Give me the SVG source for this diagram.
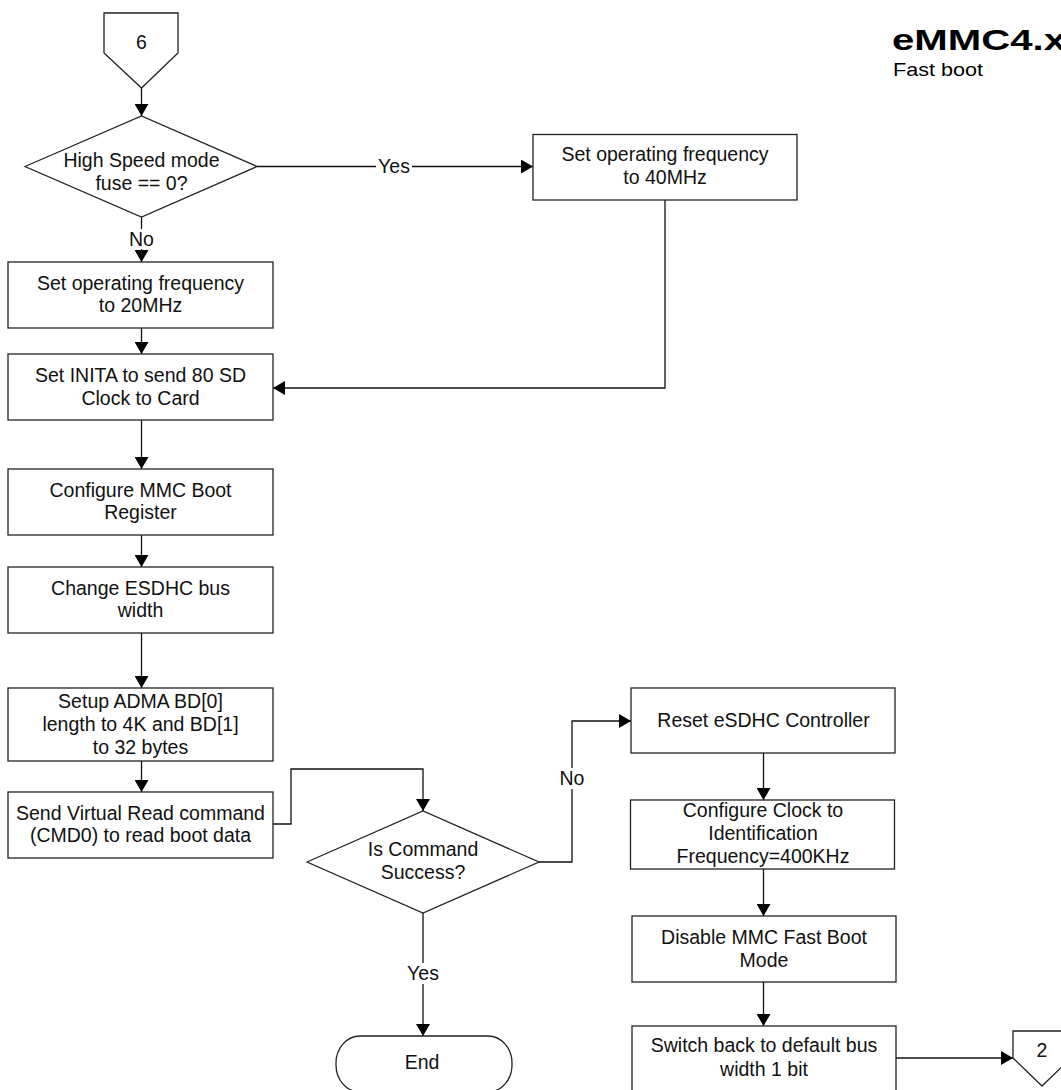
<svg xmlns="http://www.w3.org/2000/svg" width="1061" height="1090" viewBox="0 0 1061 1090">
<style>
.s{fill:#fff;stroke:#222;stroke-width:1.3}
.t{font-family:"Liberation Sans",Arial,sans-serif;font-size:19.5px;fill:#111;text-anchor:middle}
.c{fill:none;stroke:#111;stroke-width:1.3}
.lb{fill:#fff;stroke:none}
</style>
<defs>
<marker id="arr" markerUnits="userSpaceOnUse" viewBox="0 0 12 14" markerWidth="12" markerHeight="14" refX="12" refY="7" orient="auto">
<path d="M0,0 L12,7 L0,14 z" fill="#000"/>
</marker>
</defs>
<rect width="1061" height="1090" fill="#fff"/>

<g id="title">
<text x="892" y="50" style="font-family:'Liberation Sans',Arial,sans-serif;font-weight:bold;font-size:30px;fill:#000" textLength="174" lengthAdjust="spacingAndGlyphs">eMMC4.x</text>
<text x="893" y="75.5" style="font-family:'Liberation Sans',Arial,sans-serif;font-size:18.5px;fill:#000" textLength="90" lengthAdjust="spacingAndGlyphs">Fast boot</text>
</g>

<g id="connectors">
<path class="c" d="M141.5,88 V116" marker-end="url(#arr)"/>
<path class="c" d="M257,166.5 H533" marker-end="url(#arr)"/>
<path class="c" d="M665,200 V388 H273" marker-end="url(#arr)"/>
<path class="c" d="M141.5,217 V262" marker-end="url(#arr)"/>
<path class="c" d="M141.5,328 V354" marker-end="url(#arr)"/>
<path class="c" d="M141.5,420 V469" marker-end="url(#arr)"/>
<path class="c" d="M141.5,535 V567" marker-end="url(#arr)"/>
<path class="c" d="M141.5,633 V688" marker-end="url(#arr)"/>
<path class="c" d="M141.5,761 V792" marker-end="url(#arr)"/>
<path class="c" d="M273,824 H291 V769 H423 V811" marker-end="url(#arr)"/>
<path class="c" d="M423,913 V1036" marker-end="url(#arr)"/>
<path class="c" d="M539,862 H572 V721 H631" marker-end="url(#arr)"/>
<path class="c" d="M763.5,753 V800" marker-end="url(#arr)"/>
<path class="c" d="M763.5,869 V916" marker-end="url(#arr)"/>
<path class="c" d="M763.5,982 V1026" marker-end="url(#arr)"/>
<path class="c" d="M896,1058 H1013" marker-end="url(#arr)"/>
<rect class="lb" x="376" y="156" width="36" height="21"/>
<text class="t" x="394" y="172.5">Yes</text>
<rect class="lb" x="127" y="229" width="29" height="20"/>
<text class="t" x="141.5" y="246">No</text>
<rect class="lb" x="405" y="963" width="36" height="21"/>
<text class="t" x="423" y="980">Yes</text>
<rect class="lb" x="557" y="768" width="30" height="21"/>
<text class="t" x="572" y="785">No</text>
</g>

<g id="n6">
<path class="s" d="M104,13 H178 V53 L141.5,88 L104,53 Z"/>
<text class="t" x="141.5" y="48.5">6</text>
</g>

<g id="d1">
<path class="s" d="M25,166.5 L141.5,116 L257,166.5 L141.5,217 Z"/>
<text class="t" x="141.5" y="166.5">High Speed mode</text>
<text class="t" x="141.5" y="190">fuse == 0?</text>
</g>

<g id="b40">
<rect class="s" x="533" y="134.5" width="264" height="65.5"/>
<text class="t" x="665" y="161">Set operating frequency</text>
<text class="t" x="665" y="183.5">to 40MHz</text>
</g>

<g id="b20">
<rect class="s" x="8" y="262" width="265" height="66"/>
<text class="t" x="140.5" y="289.5">Set operating frequency</text>
<text class="t" x="140.5" y="311.5">to 20MHz</text>
</g>

<g id="binita">
<rect class="s" x="8" y="354" width="265" height="66"/>
<text class="t" x="140.5" y="381.5">Set INITA to send 80 SD</text>
<text class="t" x="140.5" y="404.5">Clock to Card</text>
</g>

<g id="bmmc">
<rect class="s" x="8" y="469" width="265" height="66"/>
<text class="t" x="140.5" y="496.5">Configure MMC Boot</text>
<text class="t" x="140.5" y="519">Register</text>
</g>

<g id="besdhc">
<rect class="s" x="8" y="567" width="265" height="66"/>
<text class="t" x="140.5" y="595">Change ESDHC bus</text>
<text class="t" x="140.5" y="617">width</text>
</g>

<g id="badma">
<rect class="s" x="8" y="688" width="265" height="73"/>
<text class="t" x="140.5" y="708">Setup ADMA BD[0]</text>
<text class="t" x="140.5" y="731">length to 4K and BD[1]</text>
<text class="t" x="140.5" y="754">to 32 bytes</text>
</g>

<g id="bsend">
<rect class="s" x="8" y="792" width="265" height="66"/>
<text class="t" x="140.5" y="820">Send Virtual Read command</text>
<text class="t" x="140.5" y="842">(CMD0) to read boot data</text>
</g>

<g id="d2">
<path class="s" d="M307,862 L423,811 L539,862 L423,913 Z"/>
<text class="t" x="423" y="856">Is Command</text>
<text class="t" x="423" y="879">Success?</text>
</g>

<g id="end">
<rect class="s" x="336" y="1036" width="176" height="56" rx="24" ry="27"/>
<text class="t" x="422" y="1069">End</text>
</g>

<g id="breset">
<rect class="s" x="631" y="688" width="264" height="65"/>
<text class="t" x="763.5" y="727">Reset eSDHC Controller</text>
</g>

<g id="bclock">
<rect class="s" x="630.5" y="800" width="264" height="69"/>
<text class="t" x="763" y="817">Configure Clock to</text>
<text class="t" x="763" y="840">Identification</text>
<text class="t" x="763" y="863">Frequency=400KHz</text>
</g>

<g id="bdisable">
<rect class="s" x="632" y="916" width="264" height="66"/>
<text class="t" x="764" y="944">Disable MMC Fast Boot</text>
<text class="t" x="764" y="966.5">Mode</text>
</g>

<g id="bswitch">
<rect class="s" x="632" y="1026" width="264" height="70"/>
<text class="t" x="764" y="1052">Switch back to default bus</text>
<text class="t" x="764" y="1075.5">width 1 bit</text>
</g>

<g id="n2">
<path class="s" d="M1013,1031 H1071 V1058 L1042,1086 L1013,1058 Z"/>
<text class="t" x="1042" y="1057">2</text>
</g>
</svg>
